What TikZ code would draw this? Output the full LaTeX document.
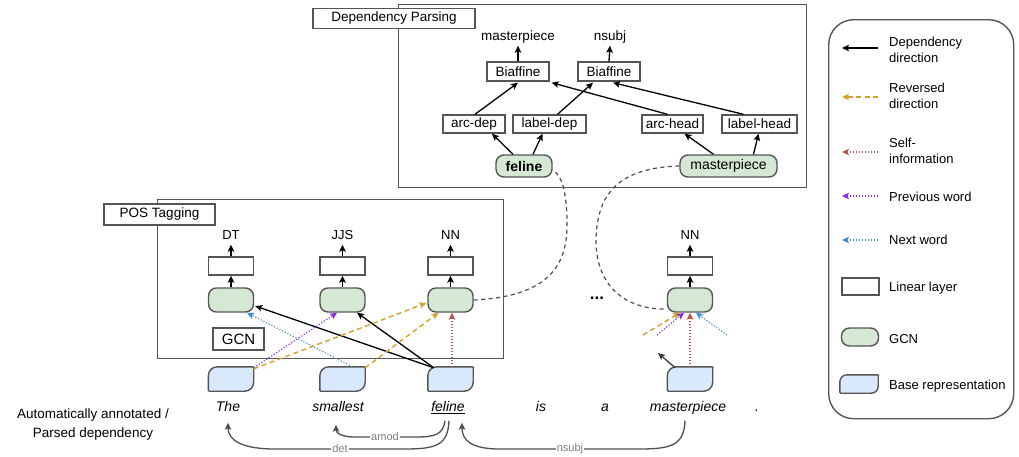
\documentclass[tikz,border=0pt]{standalone}
\usepackage{fontspec}
\setmainfont{Liberation Sans}
\usetikzlibrary{arrows.meta,calc}

\definecolor{edgegray}{HTML}{555555}
\definecolor{gcnfill}{HTML}{D5E8D4}
\definecolor{basefill}{HTML}{DAE8FC}
\definecolor{revorange}{HTML}{D6A02E}
\definecolor{selfred}{HTML}{B85450}
\definecolor{prevpurple}{HTML}{8A2BE2}
\definecolor{nextblue}{HTML}{3A8FD0}
\definecolor{arcgray}{HTML}{505050}
\definecolor{labelgray}{HTML}{808080}

% leaf-shaped "base representation" outline around an invisible node
\newcommand\drawbaserep[2]{%
  \draw[basedraw]
    ([yshift=1pt]#1.south west) -- ([yshift=-#2]#1.north west)
    .. controls ([yshift=-0.45*#2]#1.north west) and ([xshift=0.45*#2]#1.north west) .. ([xshift=#2]#1.north west)
    -- ([xshift=-1pt]#1.north east)
    .. controls ([xshift=0.5pt,yshift=-0.5pt]#1.north east) .. ([yshift=-1.5pt]#1.north east)
    -- ([yshift=#2]#1.south east)
    .. controls ([yshift=0.45*#2]#1.south east) and ([xshift=-0.45*#2]#1.south east) .. ([xshift=-#2]#1.south east)
    -- ([xshift=1pt]#1.south west) -- cycle;}

\begin{document}
\begin{tikzpicture}[x=1pt,y=-1pt,
  font=\fontsize{13.5}{16}\selectfont,
  frame/.style={draw=edgegray, line width=1.4pt},
  tagbox/.style={draw=edgegray, line width=1.4pt, fill=white, inner sep=0pt, minimum height=20pt},
  linbox/.style={draw=edgegray, line width=1.4pt, fill=white, inner sep=0pt, minimum width=45pt, minimum height=18pt},
  gcn/.style={draw=edgegray, line width=1.4pt, fill=gcnfill, rounded corners=8pt, inner sep=0pt, minimum width=45pt, minimum height=24pt},
  basenode/.style={draw=none, inner sep=0pt, minimum width=45pt, minimum height=24pt},
  basedraw/.style={draw=edgegray, line width=1.4pt, fill=basefill},
  outtext/.style={inner sep=1pt, text height=10pt, text depth=3pt},
  word/.style={inner sep=0pt, text height=10pt, text depth=3pt, font=\fontsize{14}{16}\selectfont\itshape},
  arr/.style={-{Stealth[length=7pt,width=6.5pt,inset=1.5pt]}, line width=1.3pt, black},
  revarr/.style={-{Stealth[length=7pt,width=6.5pt,inset=1.5pt]}, line width=1.4pt, revorange, dash pattern=on 5pt off 3.5pt},
  selfarr/.style={-{Stealth[length=7pt,width=6.5pt,inset=1.5pt]}, line width=1.1pt, selfred, dash pattern=on 1.2pt off 1.8pt},
  prevarr/.style={-{Stealth[length=7pt,width=6.5pt,inset=1.5pt]}, line width=1.1pt, prevpurple, dash pattern=on 1.2pt off 1.8pt},
  nextarr/.style={-{Stealth[length=7pt,width=6.5pt,inset=1.5pt]}, line width=1.1pt, nextblue, dash pattern=on 1.2pt off 1.8pt},
  link/.style={line width=1.2pt, draw=edgegray!90!black, dash pattern=on 4pt off 3.5pt},
  deparc/.style={-{Stealth[length=7pt,width=6.5pt,inset=1.5pt]}, line width=1.3pt, arcgray},
  deplabel/.style={fill=white, text=labelgray, inner sep=1pt, font=\fontsize{11}{12}\selectfont},
  legtext/.style={anchor=west, align=left, inner sep=0pt, font=\fontsize{13}{16}\selectfont}
]
\useasboundingbox (0,0) rectangle (1019,456);

% ---------------- Dependency parsing block ----------------
\node[frame, minimum width=408pt, minimum height=183pt, anchor=north west, inner sep=0pt] (dpbox) at (398,4) {};
\node[tagbox, minimum width=162pt] (dplabel) at (394,18.5) {Dependency Parsing};

\node[outtext] (out1) at (518,37) {masterpiece};
\node[outtext] (out2) at (610,37) {nsubj};
\node[tagbox, minimum width=62pt, minimum height=19pt] (bia1) at (518,71.5) {Biaffine};
\node[tagbox, minimum width=62pt, minimum height=19pt] (bia2) at (609,71.5) {Biaffine};
\node[tagbox, minimum width=62pt, minimum height=18pt] (arcdep) at (474,124) {arc-dep};
\node[tagbox, minimum width=73pt, minimum height=18pt] (labeldep) at (549.5,124) {label-dep};
\node[tagbox, minimum width=61pt, minimum height=18pt] (archead) at (672.5,124) {arc-head};
\node[tagbox, minimum width=75pt, minimum height=18pt] (labelhead) at (759.5,124) {label-head};
\node[gcn, minimum width=56pt, minimum height=22pt, font=\fontsize{14}{16}\selectfont\bfseries] (gfeline) at (524,166) {feline};
\node[gcn, minimum width=97pt, minimum height=22pt, font=\fontsize{14}{16}\selectfont] (gmaster) at (728.5,166) {masterpiece};

\draw[arr] (bia1.north) -- ([yshift=-1pt]out1.south);
\draw[arr] (bia2.north) -- ([yshift=-1pt]out2.south);
\draw[arr] ([xshift=1pt]arcdep.north) -- ([yshift=-1pt]bia1.south);
\draw[arr] ([xshift=8pt]labeldep.north) -- ([xshift=-16pt,yshift=-1pt]bia2.south);
\draw[arr] ([xshift=-5pt]archead.north) -- ([xshift=2pt,yshift=-1pt]bia1.south east);
\draw[arr] ([xshift=-16pt]labelhead.north) -- ([xshift=4pt,yshift=-1pt]bia2.south);
\draw[arr] ([xshift=-11pt]gfeline.north) -- ([xshift=18pt]arcdep.south);
\draw[arr] ([xshift=9pt]gfeline.north) -- ([xshift=-7pt]labeldep.south);
\draw[arr] ([xshift=-15pt]gmaster.north) -- ([xshift=12pt]archead.south);
\draw[arr] ([xshift=25pt]gmaster.north) -- ([xshift=-1pt]labelhead.south);

% ---------------- POS tagging block ----------------
\node[frame, minimum width=346pt, minimum height=159pt, anchor=north west, inner sep=0pt] (posbox) at (157,199) {};
\node[tagbox, minimum width=111pt, minimum height=21pt] (poslabel) at (159.5,214.5) {POS Tagging};
\node[tagbox, minimum width=51pt, minimum height=22pt, font=\fontsize{15}{17}\selectfont] (gcnlabel) at (238.5,339) {GCN};

% four token columns: tag, linear layer, GCN, base representation
\foreach \i/\cx/\tg in {1/231/DT, 2/342.5/JJS, 3/450.5/NN, 4/690/NN}{
  \node[outtext, font=\fontsize{13}{15}\selectfont] (tag\i) at (\cx,236) {\tg};
  \node[linbox] (lin\i) at (\cx,266) {};
  \node[gcn] (g\i) at (\cx,300) {};
  \node[basenode] (b\i) at (\cx,379) {};
  \drawbaserep{b\i}{9pt}
  \draw[arr] (g\i.north) -- (lin\i.south);
  \draw[arr] (lin\i.north) -- ([yshift=-1pt]tag\i.south);
}

\node[font=\fontsize{17}{17}\selectfont\bfseries, inner sep=0pt] (dots) at (597,298) {...};

% GCN input edges
\draw[arr] ([xshift=6pt,yshift=-1pt]b3.north west) -- ([xshift=1pt,yshift=-6pt]g1.east);
\draw[arr] ([xshift=6pt,yshift=-1pt]b3.north west) -- ([xshift=14.5pt]g2.south);
\draw[nextarr] ([xshift=10pt]b2.north) -- ([xshift=16pt]g1.south);
\draw[prevarr] ([yshift=-1pt]b1.north east) -- ([xshift=-5.5pt]g2.south);
\draw[revarr] ([yshift=-2pt]b1.north east) -- ([xshift=-1pt,yshift=-3pt]g3.west);
\draw[revarr] ([yshift=-1pt]b2.north east) -- ([xshift=-12pt]g3.south);
\draw[selfarr] ([xshift=1.5pt]b3.north) -- ([xshift=1.5pt]g3.south);

\coordinate (revin) at (643,335);
\coordinate (previn) at (657,335);
\coordinate (nextin) at (727,335);
\coordinate (depout) at (658,353);
\draw[revarr] (revin) -- ([xshift=-10pt]g4.south);
\draw[prevarr] (previn) -- ([xshift=-6pt]g4.south);
\draw[selfarr] (b4.north) -- (g4.south);
\draw[nextarr] (nextin) -- ([xshift=6pt]g4.south);
\draw[arr, draw=edgegray!70!black] ([xshift=8pt,yshift=-1pt]b4.north west) -- (depout);

% links between the two blocks
\draw[link] (g3.east) .. controls (560,296) and (568,255) .. (567,218)
                      .. controls (566,190) and (562,176) .. ([yshift=-4pt]gfeline.east);
\draw[link] (gmaster.west) .. controls (612,168) and (597,200) .. (596,240)
                           .. controls (596,290) and (630,310) .. ([yshift=-9pt]g4.west);

% ---------------- sentence and parsed dependencies ----------------
\node[align=center, font=\fontsize{13.5}{19}\selectfont] (sidelabel) at (93,424) {Automatically annotated /\\Parsed dependency};
\node[word] (wThe) at (228,408) {The};
\node[word] (wsmallest) at (338,408) {smallest};
\node[word] (wfeline) at (448,408) {\underline{feline}};
\node[word] (wis) at (541,408) {is};
\node[word] (wa) at (605,408) {a};
\node[word] (wmaster) at (688,408) {masterpiece};
\node[word] (wdot) at (757,408) {.};

\draw[deparc] ([xshift=1pt,yshift=-6pt]wfeline.south) .. controls +(-1,24) and +(32,0) .. (405,449)
   -- node[deplabel]{det} (275,449) .. controls +(-32,0) and +(0,18) .. ([yshift=-8pt]wThe.south);
\draw[deparc] ([xshift=-3pt,yshift=-6pt]wfeline.south) .. controls +(-2,14) and +(20,0) .. (415,437)
   -- node[deplabel]{amod} (355,437) .. controls +(-14,0) and +(0,8) .. ([xshift=-2pt,yshift=-10pt]wsmallest.south);
\draw[deparc] ([xshift=-3pt,yshift=-6pt]wmaster.south) .. controls +(-1,24) and +(32,0) .. (640,449)
   -- node[deplabel]{nsubj} (500,449) .. controls +(-28,0) and +(0,18) .. ([xshift=14pt,yshift=-8pt]wfeline.south);

% ---------------- legend ----------------
\node[frame, rounded corners=25pt, minimum width=185pt, minimum height=399pt, anchor=north west, inner sep=0pt] (legend) at (828,19) {};

\coordinate (la1) at (878,48);  \coordinate (lb1) at (842,48);
\coordinate (la2) at (878,97);  \coordinate (lb2) at (842,97);
\coordinate (la3) at (878,152); \coordinate (lb3) at (842,152);
\coordinate (la4) at (878,196); \coordinate (lb4) at (842,196);
\coordinate (la5) at (878,240); \coordinate (lb5) at (842,240);
\draw[arr] (la1) -- (lb1);
\draw[revarr] (la2) -- (lb2);
\draw[selfarr] (la3) -- (lb3);
\draw[prevarr] (la4) -- (lb4);
\draw[nextarr] (la5) -- (lb5);

\node[legtext] (lt1) at (889,50) {Dependency\\direction};
\node[legtext] (lt2) at (889,96) {Reversed\\direction};
\node[legtext] (lt3) at (889,151) {Self-\\information};
\node[legtext] (lt4) at (889,197) {Previous word};
\node[legtext] (lt5) at (889,240) {Next word};

\node[linbox, minimum width=37pt, minimum height=17pt] (llin) at (860.5,286.5) {};
\node[gcn, minimum width=37pt, minimum height=18pt] (lgcn) at (860,337) {};
\node[basenode, minimum width=38pt, minimum height=18pt] (lbase) at (859,384) {};
\drawbaserep{lbase}{7pt}
\node[legtext] (lt6) at (889,288) {Linear layer};
\node[legtext] (lt7) at (889,339) {GCN};
\node[legtext] (lt8) at (889,386) {Base representation};
\end{tikzpicture}
\end{document}
